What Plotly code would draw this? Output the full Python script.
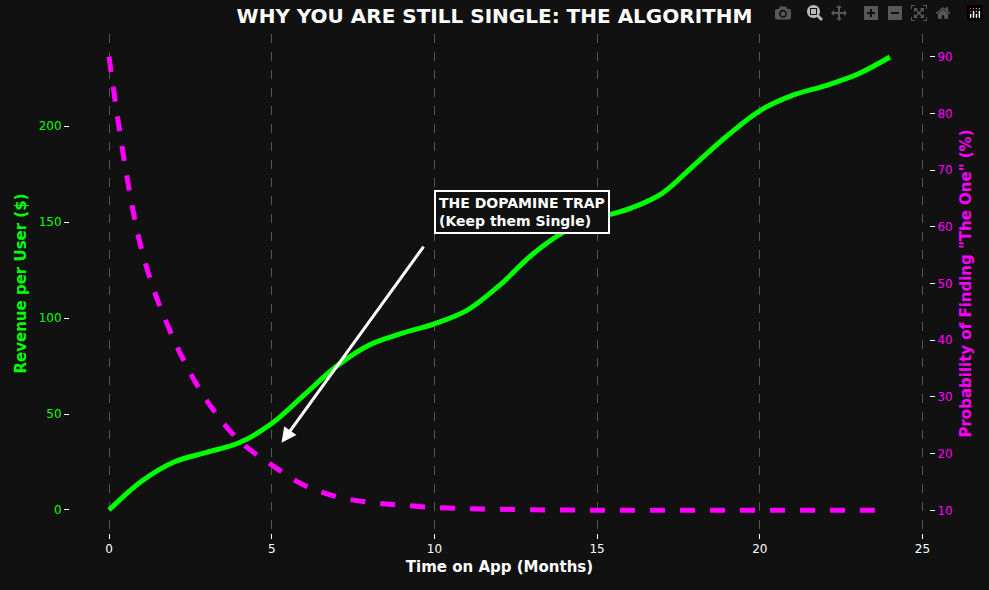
import plotly.graph_objects as go

months = list(range(25))
revenue = [0, 15, 25, 30, 35, 45, 60, 75, 86, 92, 97, 104, 117, 133, 145, 152,
           157, 165, 180, 195, 208, 216, 221, 227, 236]
prob = [90, 56, 40, 29.4, 22.3, 18, 14.4, 12.4, 11.4, 10.9, 10.5, 10.3, 10.2,
        10.1, 10.05, 10.03, 10.02, 10.01, 10, 10, 10, 10, 10, 10, 10]

fig = go.Figure()
fig.add_trace(go.Scatter(x=months, y=revenue, mode='lines', line=dict(color='#00ff00', width=5, shape='spline'),
                         name='Revenue'))
fig.add_trace(go.Scatter(x=months, y=prob, mode='lines', yaxis='y2',
                         line=dict(color='#ff00ff', width=5, dash='dash', shape='spline'), name='Probability'))

fig.add_annotation(x=5.3, y=35, ax=9.7, ay=138, xref='x', yref='y', axref='x', ayref='y',
                   text='', showarrow=True, arrowhead=2, arrowsize=1, arrowwidth=3, arrowcolor='white')
fig.add_annotation(x=10, y=155, xref='x', yref='y', xanchor='left', showarrow=False, align='left',
                   text='<b>THE DOPAMINE TRAP<br>(Keep them Single)</b>',
                   font=dict(color='white', size=14, family='DejaVu Sans'),
                   bgcolor='#111111', bordercolor='white', borderwidth=2, borderpad=3)

fig.update_layout(
    width=989, height=590, paper_bgcolor='#111111', plot_bgcolor='#111111',
    margin=dict(l=70, r=60, t=34, b=57), showlegend=False,
    font=dict(family='DejaVu Sans', color='white', size=12),
    title=dict(text='<b>WHY YOU ARE STILL SINGLE: THE ALGORITHM</b>', x=0.5, y=0.985,
               font=dict(size=20, color='white')),
    xaxis=dict(range=[-1.2, 25.2], dtick=5, showgrid=True, gridcolor='#555555', griddash='dash',
               zeroline=False, ticks='outside', tickcolor='white',
               title=dict(text='<b>Time on App (Months)</b>', font=dict(size=15), standoff=6)),
    yaxis=dict(range=[-12, 248], dtick=50, showgrid=False, zeroline=False, ticks='outside',
               tickfont=dict(color='#00ff00'), tickcolor='white',
               title=dict(text='<b>Revenue per User ($)</b>', font=dict(size=15, color='#00ff00'), standoff=8)),
    yaxis2=dict(range=[6, 94], dtick=10, overlaying='y', side='right', showgrid=False, zeroline=False,
                ticks='outside', tickfont=dict(color='#ff00ff'), tickcolor='white',
                title=dict(text='<b>Probability of Finding "The One" (%)</b>', font=dict(size=15, color='#ff00ff'), standoff=8)),
)

fig.write_html("out.html")

# dark page, no body margin
with open("out.html") as f:
    html = f.read()
html = html.replace("<head>", "<head><style>body{margin:0;background:#111111;}</style>", 1)
with open("out.html", "w") as f:
    f.write(html)
